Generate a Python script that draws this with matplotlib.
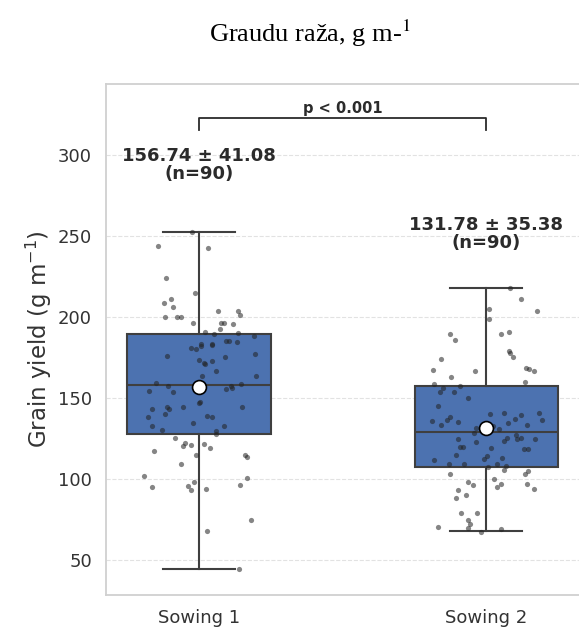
import matplotlib
matplotlib.use("Agg")
import matplotlib.pyplot as plt

# Categories and summary values
groups = ["Sowing 1", "Sowing 2"]
means = [156.74, 131.78]
sds = [41.08, 35.38]
counts = [90, 90]
q1 = [128.0, 107.4]
medians = [157.8, 129.2]
q3 = [189.3, 157.2]
whis_lo = [44.6, 67.7]
whis_hi = [252.7, 217.9]
p_text = "p < 0.001"

# Individual points (value, jitter offset)
s1_vals = [252.7, 244.0, 242.8, 224.3, 215.0, 210.9, 208.8, 206.0, 203.7, 203.9,
           201.0, 199.8, 199.8, 199.8, 196.3, 196.3, 196.3, 195.9, 192.8, 190.9,
           189.3, 190.3, 188.3, 183.3, 183.3, 185.0, 185.4, 184.6,
           180.7, 180.2, 182.1, 182.5, 175.7, 173.5, 171.4, 172.8, 175.1, 177.4,
           166.9, 163.6, 163.6, 159.1, 157.6, 153.7, 154.5, 155.6, 157.6, 156.0,
           158.5, 146.7, 144.6, 144.6, 143.2, 144.4, 143.2, 140.1, 138.5, 138.7,
           138.3, 134.6, 132.5, 130.2, 132.7, 129.8, 127.6, 125.5, 122.0, 121.2,
           120.4, 121.6, 119.1, 117.3, 114.6, 114.8, 113.8,
           109.3, 101.9, 95.1, 98.3, 95.7, 93.0, 94.0, 100.8, 96.3, 74.7, 68.1, 44.6,
           157.0, 147.5, 171.0]
s1_jit = [-0.025, -0.144, 0.032, -0.115, -0.015, -0.098, -0.124, -0.092, 0.064, 0.135,
          0.143, -0.120, -0.076, -0.065, -0.022, 0.077, 0.086, 0.117, 0.073, 0.021,
          0.052, 0.136, 0.192, 0.005, 0.044, 0.092, 0.102, 0.130,
          -0.028, -0.010, 0.007, 0.044, -0.112, -0.001, 0.017, 0.046, 0.088, 0.194,
          0.057, 0.010, 0.199, -0.151, -0.108, -0.093, -0.174, 0.092, 0.112, 0.115,
          0.144, -0.001, -0.057, -0.113, -0.106, 0.148, -0.165, -0.118, -0.177, 0.027,
          0.046, -0.021, -0.165, -0.129, 0.087, 0.060, 0.057, -0.084, -0.048, -0.028,
          -0.055, 0.016, 0.039, -0.157, -0.010, 0.161, 0.168,
          -0.063, -0.194, -0.164, -0.017, -0.039, -0.030, 0.023, 0.168, 0.141, 0.181, 0.027, 0.137,
          0.003, 0.004, 0.020]

s2_vals = [217.9, 211.1, 205.1, 203.9, 199.0, 189.7, 185.8, 189.5, 190.6, 179.2,
           177.6, 175.3, 173.9, 167.3, 166.7, 168.5, 167.9, 166.5, 162.8, 159.9,
           158.6, 156.2, 157.6,
           153.9, 153.9, 149.8, 145.2, 140.3, 140.9, 136.6, 136.0, 133.1, 136.4,
           138.3, 135.0, 134.8, 137.3, 139.5, 133.1, 131.7, 128.6, 132.7, 130.7,
           124.7, 123.0, 119.8, 119.9, 119.3, 123.5, 125.5, 127.0, 124.5, 125.1,
           124.5, 118.3, 118.3, 115.0, 114.4, 112.1, 113.1, 112.0, 109.5, 109.5, 109.5,
           103.1, 107.2, 105.6, 103.1, 104.9, 98.1, 96.3, 99.8, 95.3, 96.7,
           96.7, 93.8, 93.4, 90.3, 88.0, 78.8, 79.2, 74.7, 72.2, 69.6,
           70.6, 67.6, 69.4,
           129.5, 141.0, 108.0]
s2_jit = [0.084, 0.120, 0.010, 0.175, 0.008, -0.125, -0.110, 0.050, 0.079, 0.079,
          0.081, 0.093, -0.157, -0.187, -0.041, 0.138, 0.150, 0.165, -0.123, 0.136,
          -0.183, -0.151, -0.091,
          -0.160, -0.111, -0.064, -0.169, 0.014, 0.182, 0.193, -0.188, -0.158, -0.137,
          -0.125, -0.098, 0.074, 0.101, 0.120, 0.142, -0.035, -0.042, 0.024, 0.043,
          -0.098, -0.035, -0.092, -0.080, 0.018, 0.060, 0.072, 0.105, 0.108, 0.121,
          0.168, 0.133, 0.145, -0.106, 0.003, -0.009, 0.056, -0.181, -0.130, -0.079, 0.036,
          -0.128, 0.007, 0.060, 0.135, 0.144, -0.064, -0.048, 0.027, 0.038, 0.052,
          0.141, 0.166, -0.098, -0.069, -0.107, -0.089, -0.034, -0.062, -0.056, -0.064,
          -0.167, -0.017, 0.052,
          -0.010, 0.060, 0.070]

fig = plt.figure(figsize=(5.79, 6.32), dpi=100)
ax = fig.add_axes([0.183, 0.0585, 0.818, 0.8085])

stats = []
for i in range(2):
    stats.append({"med": medians[i], "q1": q1[i], "q3": q3[i],
                  "whislo": whis_lo[i], "whishi": whis_hi[i],
                  "mean": means[i], "fliers": [], "label": groups[i]})

edge = "#3f3f3f"
ax.bxp(stats, positions=[0, 1], widths=0.5, patch_artist=True, showfliers=False,
       boxprops=dict(facecolor="#4c72b0", edgecolor=edge, linewidth=1.5),
       medianprops=dict(color=edge, linewidth=1.5),
       whiskerprops=dict(color=edge, linewidth=1.5),
       capprops=dict(color=edge, linewidth=1.5),
       capwidths=0.25, zorder=2)

pts = [(s1_vals, s1_jit), (s2_vals, s2_jit)]
for i, (vals, jit) in enumerate(pts):
    ax.scatter([i + j for j in jit], vals, s=14, color="#222222", alpha=0.55,
               linewidths=0, zorder=3)
    ax.plot(i, means[i], "o", markersize=10, markerfacecolor="white",
            markeredgecolor="black", markeredgewidth=1.2, zorder=4)

# annotations
label_y = [282.5, 240]
for i in range(2):
    ax.text(i, label_y[i], f"{means[i]:.2f} ± {sds[i]:.2f}\n(n={counts[i]})",
            ha="center", va="bottom", fontsize=13, fontweight="bold",
            color="#2b2b2b", linespacing=1.05, zorder=5)

bar_y = 322.8
ax.plot([0, 0, 1, 1], [315.4, bar_y, bar_y, 315.4], color="#2b2b2b", lw=1.3)
ax.text(0.5, bar_y + 1.0, p_text, ha="center", va="bottom", fontsize=10.5,
        fontweight="bold", color="#2b2b2b")

ax.set_xlim(-0.325, 1.325)
ax.set_ylim(28.4, 343.8)
ax.set_yticks([50, 100, 150, 200, 250, 300])
ax.set_xticks([0, 1])
ax.set_xticklabels(groups)
ax.tick_params(length=0, labelsize=13, colors="#333333", pad=10)
ax.set_ylabel("Grain yield (g m$^{-1}$)", fontsize=16.5, color="#333333", labelpad=3)
ax.grid(axis="y", linestyle="--", color="#e2e2e2", linewidth=0.8)
ax.set_axisbelow(True)
for sp in ax.spines.values():
    sp.set_color("#d0d0d0")
    sp.set_linewidth(1.3)

fig.text(0.535, 0.934, "Graudu raža, g m-$^{1}$", ha="center", va="baseline",
         fontsize=19, family="Liberation Serif", math_fontfamily="stix")

fig.savefig("out.png", dpi=100)
